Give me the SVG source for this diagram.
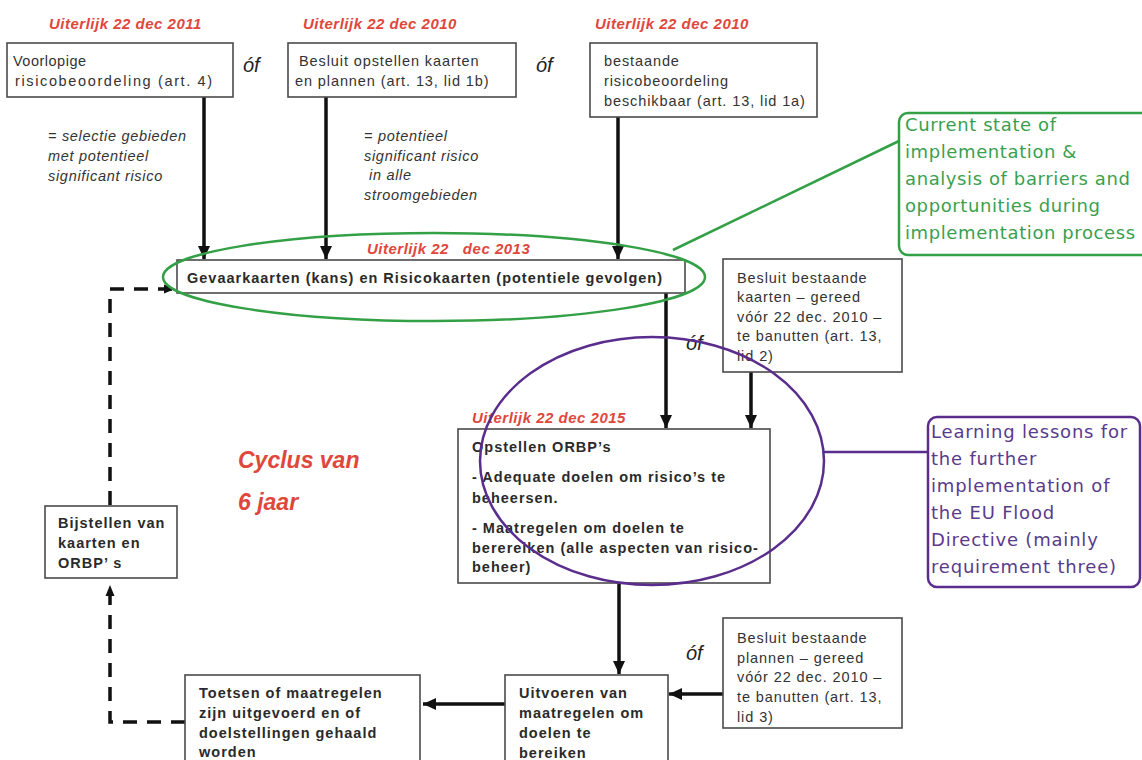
<svg xmlns="http://www.w3.org/2000/svg" width="1142" height="760" viewBox="0 0 1142 760">
<style>
.bg{fill:#ffffff}
.box{fill:#ffffff;stroke:#4a4a4a;stroke-width:1.6}
.t{font-family:"Liberation Sans",Arial,sans-serif;font-size:14.5px;fill:#333333;letter-spacing:0.9px}
.tb{font-family:"Liberation Sans",Arial,sans-serif;font-size:14.5px;font-weight:bold;fill:#2a2a2a;letter-spacing:1px}
.ti{font-family:"Liberation Sans",Arial,sans-serif;font-size:14.5px;font-style:italic;fill:#333333;letter-spacing:0.7px}
.red{font-family:"Liberation Sans",Arial,sans-serif;font-size:15px;font-style:italic;font-weight:bold;fill:#e0473c;letter-spacing:0.5px}
.cyc{font-family:"Liberation Sans",Arial,sans-serif;font-size:23px;font-style:italic;font-weight:bold;fill:#e0473c}
.of{font-family:"Liberation Sans",Arial,sans-serif;font-size:20px;font-style:italic;fill:#222222}
.line{fill:none;stroke:#111111;stroke-width:3.5}
.dash{fill:none;stroke:#111111;stroke-width:3.5;stroke-dasharray:14 10}
.green{fill:none;stroke:#33a046;stroke-width:2.5}
.purple{fill:none;stroke:#5a2d8c;stroke-width:2.5}
.gt{font-family:"DejaVu Sans",Verdana,sans-serif;font-size:18px;fill:#3a9f50;letter-spacing:0.6px}
.pt{font-family:"DejaVu Sans",Verdana,sans-serif;font-size:18px;fill:#5a3a8c;letter-spacing:0.8px}
</style>
<defs>
<marker id="arr" markerUnits="userSpaceOnUse" markerWidth="14" markerHeight="14" viewBox="0 0 14 14" refX="13" refY="7" orient="auto">
<path d="M0,1 L13,7 L0,13 Z" fill="#111111"/>
</marker>
<marker id="arrs" markerUnits="userSpaceOnUse" markerWidth="12" markerHeight="12" viewBox="0 0 12 12" refX="11" refY="6" orient="auto">
<path d="M0,1.5 L11,6 L0,10.5 Z" fill="#111111"/>
</marker>
</defs>
<rect class="bg" x="0" y="0" width="1142" height="760"/>

<g id="labels">
<text class="red" x="49" y="29">Uiterlijk 22 dec 2011</text>
<text class="red" x="303" y="29">Uiterlijk 22 dec 2010</text>
<text class="red" x="595" y="29">Uiterlijk 22 dec 2010</text>
<text class="red" x="367" y="254" xml:space="preserve">Uiterlijk 22   dec 2013</text>
<text class="red" x="472" y="423">Uiterlijk 22 dec 2015</text>
<text class="of" x="243" y="72">óf</text>
<text class="of" x="536" y="72">óf</text>
<text class="of" x="686" y="350">óf</text>
<text class="of" x="686" y="660">óf</text>
<text class="cyc" x="238" y="468">Cyclus van</text>
<text class="cyc" x="238" y="510">6 jaar</text>
<text class="ti" x="48" y="141">= selectie gebieden</text>
<text class="ti" x="48" y="161">met potentieel</text>
<text class="ti" x="48" y="181">significant risico</text>
<text class="ti" x="364" y="141">= potentieel</text>
<text class="ti" x="364" y="161">significant risico</text>
<text class="ti" x="369" y="180">in alle</text>
<text class="ti" x="364" y="200">stroomgebieden</text>
</g>

<g id="connectors">
<line class="line" x1="204" y1="97" x2="204" y2="259" marker-end="url(#arr)"/>
<line class="line" x1="326" y1="97" x2="326" y2="259" marker-end="url(#arr)"/>
<line class="line" x1="618" y1="117" x2="618" y2="259" marker-end="url(#arr)"/>
<line class="line" x1="666" y1="293" x2="666" y2="428" marker-end="url(#arr)"/>
<line class="line" x1="751" y1="372" x2="751" y2="428" marker-end="url(#arr)"/>
<line class="line" x1="619" y1="583" x2="619" y2="674" marker-end="url(#arr)"/>
<line class="line" x1="723" y1="694" x2="669" y2="694" marker-end="url(#arr)"/>
<line class="line" x1="505" y1="704" x2="423" y2="704" marker-end="url(#arr)"/>
<path class="dash" d="M110,505 L110,289 L175,289" marker-end="url(#arrs)"/>
<path class="dash" d="M185,722 L110,722 L110,585" marker-end="url(#arrs)"/>
<line class="green" x1="673" y1="250" x2="899" y2="141"/>
<line class="purple" x1="824" y1="452" x2="928" y2="452"/>
</g>

<g id="n1">
<rect class="box" x="7" y="43" width="226" height="54"/>
<text class="t" x="13" y="66" style="letter-spacing:0.5px">Voorlopige</text>
<text class="t" x="15" y="86" textLength="198" lengthAdjust="spacing">risicobeoordeling (art. 4)</text>
</g>
<g id="n2">
<rect class="box" x="288" y="43" width="228" height="54"/>
<text class="t" x="299" y="66">Besluit opstellen kaarten</text>
<text class="t" x="295" y="86">en plannen (art. 13, lid 1b)</text>
</g>
<g id="n3">
<rect class="box" x="590" y="43" width="227" height="74"/>
<text class="t" x="604" y="66">bestaande</text>
<text class="t" x="604" y="86">risicobeoordeling</text>
<text class="t" x="604" y="106">beschikbaar (art. 13, lid 1a)</text>
</g>
<g id="n4">
<rect class="box" x="177" y="260" width="508" height="33"/>
<text class="tb" x="187" y="283" textLength="476" lengthAdjust="spacingAndGlyphs">Gevaarkaarten (kans) en Risicokaarten (potentiele gevolgen)</text>
</g>
<g id="n5">
<rect class="box" x="723" y="259" width="179" height="113"/>
<text class="t" x="737" y="283">Besluit bestaande</text>
<text class="t" x="737" y="302">kaarten – gereed</text>
<text class="t" x="737" y="322">vóór 22 dec. 2010 –</text>
<text class="t" x="737" y="341">te banutten (art. 13,</text>
<text class="t" x="737" y="361">lid 2)</text>
</g>
<g id="n6">
<rect class="box" x="458" y="429" width="312" height="154"/>
<text class="tb" x="472" y="452">Opstellen ORBP’s</text>
<text class="tb" x="472" y="482">- Adequate doelen om risico’s te</text>
<text class="tb" x="472" y="503">beheersen.</text>
<text class="tb" x="472" y="533">- Maatregelen om doelen te</text>
<text class="tb" x="472" y="553">berereiken (alle aspecten van risico-</text>
<text class="tb" x="472" y="572">beheer)</text>
</g>
<g id="n7">
<rect class="box" x="45" y="506" width="132" height="72"/>
<text class="tb" x="58" y="528">Bijstellen van</text>
<text class="tb" x="58" y="548">kaarten en</text>
<text class="tb" x="58" y="568">ORBP’ s</text>
</g>
<g id="n8">
<rect class="box" x="185" y="675" width="235" height="95"/>
<text class="tb" x="199" y="698">Toetsen of maatregelen</text>
<text class="tb" x="199" y="718">zijn uitgevoerd en of</text>
<text class="tb" x="199" y="738">doelstellingen gehaald</text>
<text class="tb" x="199" y="757">worden</text>
</g>
<g id="n9">
<rect class="box" x="505" y="675" width="163" height="95"/>
<text class="tb" x="519" y="698">Uitvoeren van</text>
<text class="tb" x="519" y="718">maatregelen om</text>
<text class="tb" x="519" y="738">doelen te</text>
<text class="tb" x="519" y="758">bereiken</text>
</g>
<g id="n10">
<rect class="box" x="723" y="618" width="179" height="110"/>
<text class="t" x="737" y="643">Besluit bestaande</text>
<text class="t" x="737" y="663">plannen – gereed</text>
<text class="t" x="737" y="682">vóór 22 dec. 2010 –</text>
<text class="t" x="737" y="702">te banutten (art. 13,</text>
<text class="t" x="737" y="722">lid 3)</text>
</g>

<g id="highlights">
<ellipse class="green" cx="434" cy="277" rx="271" ry="44"/>
<ellipse class="purple" cx="652" cy="461" rx="172" ry="124"/>
</g>
<g id="callout1">
<rect class="green" x="899" y="113" width="260" height="142" rx="9"/>
<text class="gt" x="905" y="131">Current state of</text>
<text class="gt" x="905" y="158">implementation &amp;</text>
<text class="gt" x="905" y="185">analysis of barriers and</text>
<text class="gt" x="905" y="212">opportunities during</text>
<text class="gt" x="905" y="239">implementation process</text>
</g>
<g id="callout2">
<rect class="purple" x="928" y="417" width="212" height="170" rx="9"/>
<text class="pt" x="931" y="438">Learning lessons for</text>
<text class="pt" x="931" y="465">the further</text>
<text class="pt" x="931" y="492">implementation of</text>
<text class="pt" x="931" y="519">the EU Flood</text>
<text class="pt" x="931" y="546">Directive (mainly</text>
<text class="pt" x="931" y="573">requirement three)</text>
</g>
</svg>
